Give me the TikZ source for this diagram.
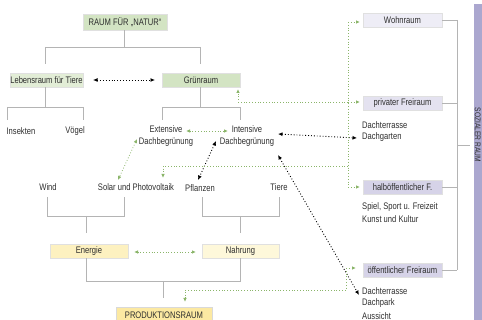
\documentclass[tikz,border=0pt]{standalone}
\usepackage{fontspec}
\setmainfont[FakeStretch=0.8]{Liberation Sans}
\usetikzlibrary{arrows.meta}
\definecolor{lgrey}{HTML}{B4B4B4}
\definecolor{bgreen}{HTML}{D3E4C3}
\definecolor{bgreenl}{HTML}{E2EDD6}
\definecolor{yel}{HTML}{FDF1C0}
\definecolor{yell}{HTML}{FEF8DA}
\definecolor{yeld}{HTML}{FCE9A2}
\definecolor{lav}{HTML}{EEEDF6}
\definecolor{lavm}{HTML}{E4E2F0}
\definecolor{lavd}{HTML}{D6D3E8}
\definecolor{lavbar}{HTML}{ABA7CF}
\definecolor{dgreen}{HTML}{8BB56A}
\definecolor{txt}{HTML}{2E2E2E}
\tikzset{
  box/.style={draw=black!12, line width=0.6pt, inner sep=0pt, minimum height=14pt, text=txt, font=\fontsize{9.5}{11}\selectfont},
  lbl/.style={inner sep=0pt, text=txt, font=\fontsize{9.5}{12}\selectfont, align=center},
  lbll/.style={lbl, anchor=west, align=left},
  tree/.style={draw=lgrey, line width=0.8pt},
  garr/.style={draw=dgreen, line width=0.8pt, dotted, -{Latex[length=4pt,width=3.5pt]}},
  garrb/.style={garr, {Latex[length=4pt,width=3.5pt]}-{Latex[length=4pt,width=3.5pt]}},
  gline/.style={draw=dgreen, line width=0.8pt, dotted},
  barr/.style={draw=black, line width=0.9pt, dotted, {Latex[length=4.5pt,width=4pt]}-{Latex[length=4.5pt,width=4pt]}},
}
\begin{document}
\begin{tikzpicture}[x=1pt,y=-1pt]
\useasboundingbox (0,0) rectangle (482,320);
\begin{scope}
\clip (0,0) rectangle (482,320);
% right bar
\fill[lavbar] (474,4) rectangle (490,320);
\node[rotate=-90, text=txt, font=\fontsize{8.3}{9}\selectfont, inner sep=0pt] (soz) at (477.8,135) {SOZIALER RAUM};
% nodes
\node[box, fill=bgreen, minimum width=84pt, minimum height=16pt] (natur) at (125,22) {RAUM FÜR „NATUR“};
\node[box, fill=bgreenl, minimum width=73pt] (leb) at (46.5,80) {Lebensraum für Tiere};
\node[box, fill=bgreen, minimum width=78pt] (gruen) at (201,80) {Grünraum};
\node[lbl] (ins) at (21,131) {Insekten};
\node[lbl] (voe) at (75,131) {Vögel};
\node[lbl] (ext) at (166,136) {Extensive\\Dachbegrünung};
\node[lbl] (int) at (247,136) {Intensive\\Dachbegrünung};
\node[lbl] (wind) at (48,187) {Wind};
\node[lbl] (solar) at (136,187) {Solar und Photovoltaik};
\node[lbl] (pfl) at (200,188) {Pflanzen};
\node[lbl] (tiere) at (279,187) {Tiere};
\node[box, fill=yel, minimum width=78pt] (ener) at (89,251) {Energie};
\node[box, fill=yell, minimum width=77pt] (nahr) at (240.5,251) {Nahrung};
\node[box, fill=yeld, draw=black!15, minimum width=96pt, minimum height=16pt] (prod) at (164,315) {PRODUKTIONSRAUM};
\node[box, fill=lav, minimum width=79pt] (wohn) at (402.5,20) {Wohnraum};
\node[box, fill=lavm, minimum width=79pt] (priv) at (402.5,103) {privater Freiraum};
\node[box, fill=lavd, minimum width=79pt] (halb) at (402.5,187) {halböffentlicher F.};
\node[box, fill=lavd, minimum width=79pt] (oeff) at (402.5,270) {öffentlicher Freiraum};
\node[lbll] (dt1) at (362,125) {Dachterrasse};
\node[lbll] (dg) at (362,137) {Dachgarten};
\node[lbll] (spiel) at (362,207) {Spiel, Sport u. Freizeit};
\node[lbll] (kunst) at (362,219) {Kunst und Kultur};
\node[lbll] (dt2) at (362,291) {Dachterrasse};
\node[lbll] (dpark) at (362,303) {Dachpark};
\node[lbll] (auss) at (362,316) {Aussicht};
% tree lines
\draw[tree] (natur.south -| 124,0) -- (124,47) (45,47) -- (200,47)
  (45,47) -- (45,64) (200,47) -- (200,64);
\draw[tree] (leb.south -| 45,0) -- (45,107) (7,107) -- (83,107)
  (7,107) -- (7,120) (83,107) -- (83,120);
\draw[tree] (gruen.south -| 200,0) -- (200,107) (162,107) -- (240,107)
  (162,107) -- (162,120) (240,107) -- (240,120);
\draw[tree] (47,197) -- (47,216) -- (124,216) -- (124,197) (86,216) -- (86,233);
\draw[tree] (202,197) -- (202,216) -- (279,216) -- (279,197) (240,216) -- (240,233);
\draw[tree] (ener.south -| 86,0) -- (86,281) -- (240,281) -- (nahr.south -| 240,0) (163,281) -- (163,298);
\draw[tree] (wohn.east) -- (457,20) (priv.east) -- (457,103) (halb.east) -- (457,187) (oeff.east) -- (457,270)
  (457,20) -- (457,270) (457,145) -- (470,145);
% black dotted arrows
\coordinate (i1) at (278,134);
\coordinate (i2) at (216,141);
\coordinate (i3) at (278,155);
\draw[barr] (93,80) -- (155,80);
\draw[barr] (i1) -- (357,138);
\draw[barr] (i2) -- (198,180);
\draw[barr] (i3) -- (359,295);
% green dotted arrows
\draw[garrb] (186,131) -- (228,131);
\draw[garrb] (137,139) -- (118,180);
\draw[garrb] (134,252) -- (196,252);
\draw[garr] (348,166) -- (163,166) -- (163,178);
\draw[garr] (348,102) -- (238,102) -- (238,89);
\draw[gline] (348,22) -- (348,187);
\draw[garr] (348,22) -- (360,22);
\draw[garr] (348,102) -- (360,102);
\draw[garr] (348,187) -- (360,187);
\draw[garr] (346,268) -- (356,268);
\draw[garr] (346,268) -- (346,290) -- (185,290) -- (185,302);
\end{scope}
\end{tikzpicture}
\end{document}
